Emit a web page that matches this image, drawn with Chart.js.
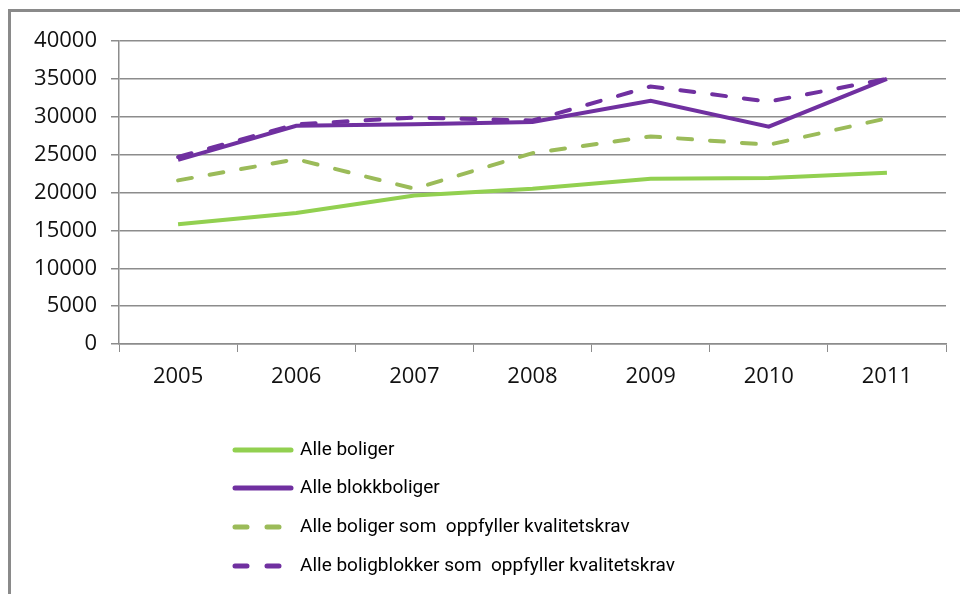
<!DOCTYPE html>
<html>
<head>
<meta charset="utf-8">
<script src="https://cdn.jsdelivr.net/npm/chart.js@4/dist/chart.umd.min.js"></script>
<style>
  html, body { margin: 0; padding: 0; background: #fff; }
  .wrap { position: relative; width: 960px; height: 594px; }
  .frame { position: absolute; left: 8px; top: 9px; right: 0; bottom: 0;
           border-top: 3px solid #8a8a8a; border-left: 3px solid #8a8a8a; }
  canvas { position: absolute; left: 0; top: 0; }
</style>
</head>
<body>
<div class="wrap">
  <div class="frame"></div>
  <canvas class="myChart" width="960" height="594"></canvas>
</div>
<script>
const years = ["2005", "2006", "2007", "2008", "2009", "2010", "2011"];
const alleBoliger = [15800, 17300, 19600, 20500, 21800, 21900, 22600];
const alleBlokkboliger = [24300, 28800, 29000, 29300, 32100, 28700, 35000];
const boligerKrav = [21600, 24400, 20500, 25200, 27400, 26300, 29800];
const blokkerKrav = [24700, 29000, 29900, 29500, 34000, 32000, 35000];
const yTicks = [0, 5000, 10000, 15000, 20000, 25000, 30000, 35000, 40000];

const green = "#92d050";
const greenDark = "#9bbb59";
const purple = "#7030a0";
const dash = [14, 18];

// legend drawn as a vertical list under the plot, like the original
const listLegend = {
  id: "listLegend",
  afterDraw(chart) {
    const ctx = chart.ctx;
    const rows = [450, 488, 527, 566];
    ctx.save();
    chart.data.datasets.forEach((ds, i) => {
      const y = rows[i];
      ctx.strokeStyle = ds.borderColor;
      ctx.lineWidth = 5;
      ctx.lineCap = "round";
      if (ds.borderDash) {
        ctx.setLineDash([12, 20]);
        ctx.beginPath();
        ctx.moveTo(235, y);
        ctx.lineTo(280, y);
        ctx.stroke();
      } else {
        ctx.setLineDash([]);
        ctx.beginPath();
        ctx.moveTo(235, y);
        ctx.lineTo(291, y);
        ctx.stroke();
      }
      ctx.setLineDash([]);
      ctx.fillStyle = "#000";
      ctx.font = "19px Roboto, 'Open Sans', sans-serif";
      ctx.textBaseline = "middle";
      ctx.fillText(ds.label, 300, y);
    });
    ctx.restore();
  }
};

const myChart = document.querySelector(".myChart");

new Chart(myChart, {
  type: "line",
  data: {
    labels: years,
    datasets: [
      {
        label: "Alle boliger",
        data: alleBoliger,
        borderColor: green,
        borderWidth: 4,
        order: 4
      },
      {
        label: "Alle blokkboliger",
        data: alleBlokkboliger,
        borderColor: purple,
        borderWidth: 4,
        order: 3
      },
      {
        label: "Alle boliger som  oppfyller kvalitetskrav",
        data: boligerKrav,
        borderColor: greenDark,
        borderWidth: 4,
        borderDash: dash,
        borderCapStyle: "round",
        order: 2
      },
      {
        label: "Alle boligblokker som  oppfyller kvalitetskrav",
        data: blokkerKrav,
        borderColor: purple,
        borderWidth: 4,
        borderDash: dash,
        borderCapStyle: "round",
        order: 1
      }
    ]
  },
  options: {
    responsive: false,
    animation: false,
    elements: {
      point: { radius: 0, hoverRadius: 0 },
      line: { tension: 0, fill: false }
    },
    layout: {
      padding: { top: 41, right: 14, bottom: 0, left: 0 }
    },
    scales: {
      x: {
        offset: true,
        grid: {
          offset: true,
          drawOnChartArea: false,
          drawTicks: true,
          tickLength: 8,
          color: "#8c8c8c"
        },
        border: { color: "#8c8c8c", width: 1.5 },
        ticks: {
          color: "#111",
          padding: 12,
          font: { family: "'Open Sans', sans-serif", size: 22 }
        },
        afterFit(scale) { scale.height = 250; }
      },
      y: {
        min: 0,
        max: 40000,
        afterBuildTicks(scale) {
          scale.ticks = yTicks.map(v => ({ value: v }));
        },
        grid: {
          color: "#8c8c8c",
          lineWidth: 1.5,
          tickLength: 8
        },
        border: { color: "#8c8c8c", width: 1.5 },
        ticks: {
          color: "#111",
          padding: 14,
          font: { family: "'Open Sans', sans-serif", size: 22 },
          callback: v => String(v)
        },
        afterFit(scale) { scale.width = 119; }
      }
    },
    plugins: {
      legend: { display: false },
      tooltip: { enabled: false }
    }
  },
  plugins: [listLegend]
});
</script>
</body>
</html>
